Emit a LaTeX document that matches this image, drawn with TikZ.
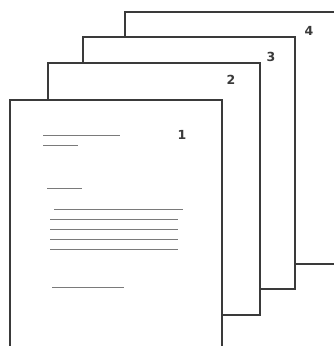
\documentclass[tikz,border=0pt]{standalone}
\usepackage{fontspec}
\newfontfamily\numfont{DejaVu Sans}
\definecolor{sheetframe}{HTML}{3A3A3A}
\definecolor{rulegray}{HTML}{7A7A7A}

\begin{document}
\begin{tikzpicture}[x=1pt,y=-1pt]
\useasboundingbox (0,0) rectangle (334,346);
\clip (0,0) rectangle (334,346);
\def\pagew{212}
\def\pageh{252}
\foreach \px/\py/\nx/\ny/\num in {125/12/309/31/4, 83/37/271/57/3, 48/63/231/80/2, 10/100/182/135/1}{
  % White Sheet With Dark Frame
  \draw[sheetframe, line width=1.3pt, fill=white]
        (\px,\py) rectangle ++(\pagew,\pageh);
  % Sheet Number
  \node[font=\numfont\bfseries\fontsize{12.5}{14}\selectfont, text=sheetframe]
        (num\num) at (\nx,\ny) {\num};
}
% Text Rules On The Front Sheet
\foreach \ly/\la/\lb in {135/43/120, 145/43/78, 188/47/82, 209/54/183, 219/50/178,
                         229/50/178, 239/50/178, 249/50/178, 287/52/124}{
  \draw[rulegray, line width=0.85pt] (\la,\ly) -- (\lb,\ly);
}
\end{tikzpicture}
\end{document}
